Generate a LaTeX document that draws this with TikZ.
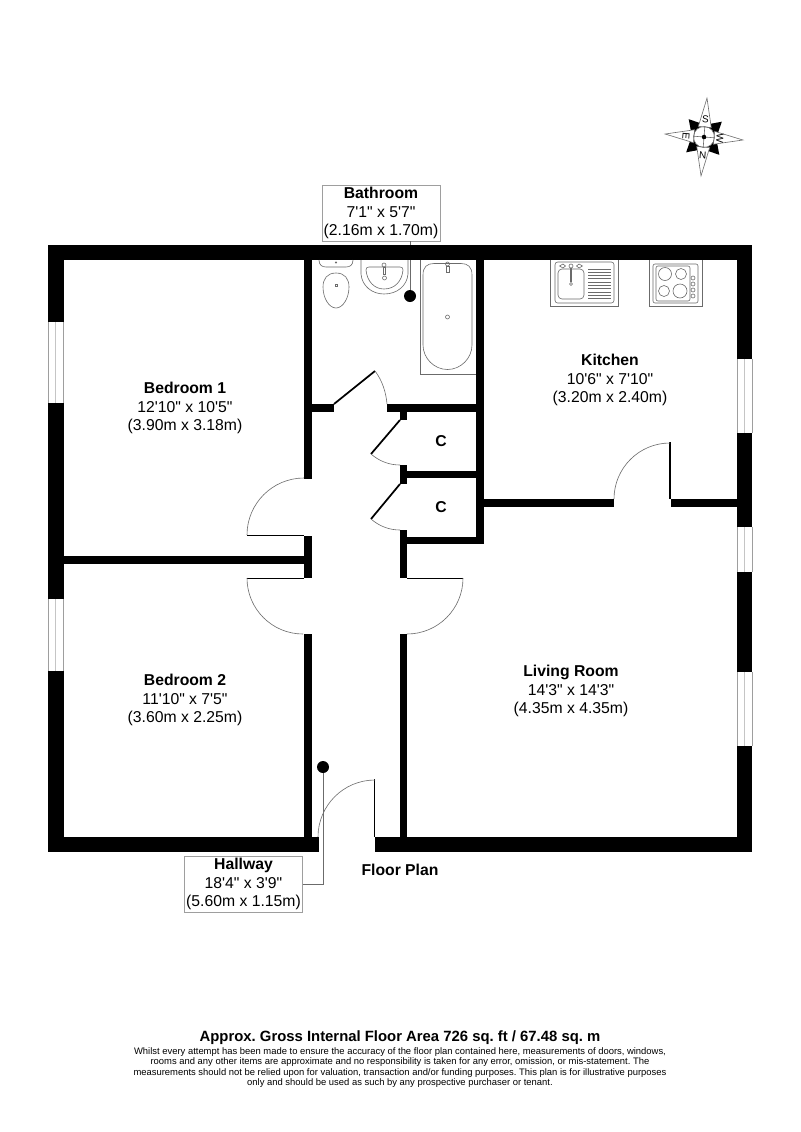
\documentclass[tikz,border=0pt]{standalone}
\usepackage{fontspec}
\newfontfamily\planfont{Liberation Sans}
\frenchspacing
\definecolor{fix}{gray}{0.42}
\definecolor{win}{gray}{0.62}
\tikzset{
  wall/.style={fill=black,draw=none},
  fixture/.style={draw=fix,line width=0.45pt,fill=none},
  swing/.style={draw=fix,line width=0.45pt},
  leaf/.style={draw=black,line width=1.3pt},
  thinleaf/.style={draw=black,line width=0.6pt},
  leader/.style={draw=fix,line width=0.5pt},
  roomlabel/.style={align=center,inner sep=0pt,font=\planfont\fontsize{11.8}{13.9}\selectfont},
  boxlabel/.style={roomlabel,draw=win,line width=0.6pt,fill=white,minimum width=0pt},
  dotnode/.style={circle,fill=black,inner sep=0pt,minimum size=9pt},
  winpane/.style={fill=white,draw=win,line width=0.6pt}
}
\begin{document}
\begin{tikzpicture}[x=0.75pt,y=-0.75pt]
\useasboundingbox (0,0) rectangle (800,1132);
\fill[white] (0,0) rectangle (800,1132);

% annotation boxes and their dots, leaders under the walls
\node[boxlabel,minimum width=88.5pt,minimum height=42pt] (bathbox) at (381,213) {\textbf{Bathroom}\\7'1" x 5'7"\\(2.16m x 1.70m)};
\node[boxlabel,minimum width=89pt,minimum height=42pt] (hallbox) at (243.5,884) {\textbf{Hallway}\\18'4" x 3'9"\\(5.60m x 1.15m)};
\node[dotnode] (bathdot) at (410,296) {};
\node[dotnode] (halldot) at (323,767) {};
\draw[leader] (bathbox.south -| bathdot) -- (bathdot);
\draw[leader] (halldot) |- (hallbox.east);

% walls
\foreach \xa/\ya/\xb/\yb in {
  48/245/752/260,   % top
  48/245/64/852,    % left
  737/245/752/852,  % right
  48/837/319/852,   % bottom left
  375/837/752/852,  % bottom right
  64/556/304/564,   % bedroom divider
  304/260/312/479,  % hall west upper
  304/536/312/578,  % hall west stub
  304/634/312/837,  % hall west lower
  304/404/334/412,  % bathroom south left
  387/404/484/412,  % bathroom south right
  476/260/484/544,  % kitchen west
  400/412/407/420,
  400/465/407/484,
  407/471/476/478,  % cupboard divider
  400/530/407/578,
  400/537/484/544,  % cupboard south
  400/634/407/837,  % hall east lower
  484/499/614/507,  % living north left
  671/499/737/507   % living north right
}{\fill[wall] (\xa,\ya) rectangle (\xb,\yb);}

% windows
\foreach \xa/\ya/\yb in {48/322/403,48/599/671,737/359/433,737/527/572,737/672/746}{
  \fill[white] (\xa,\ya) rectangle (\xa+15,\yb);
  \draw[win,line width=0.6pt] (\xa,\ya) -- (\xa,\yb) (\xa+15,\ya) -- (\xa+15,\yb);
  \draw[win!60,line width=0.6pt] (\xa+7.5,\ya) -- (\xa+7.5,\yb);
}

% doors
\draw[thinleaf] (247,535) -- (304,535) (247,578) -- (304,578) (407,578) -- (463,578);
\draw[swing] (247,535) arc[start angle=180,end angle=270,radius=57];
\draw[swing] (247,578) arc[start angle=180,end angle=90,radius=56];
\draw[swing] (463,578) arc[start angle=0,end angle=90,radius=56];
\draw[leaf] (334,404) -- (375,371);
\draw[swing] (375,371) .. controls (382,380) and (386,392) .. (387,404);
\draw[leaf] (400,420) -- (371,454);
\draw[swing] (371,454) .. controls (379,461) and (389,465) .. (400,465);
\draw[leaf] (400,484) -- (371,519);
\draw[swing] (371,519) .. controls (379,526) and (389,530) .. (400,530);
\draw[leaf] (670,442) -- (670,499);
\draw[swing] (614,499) arc[start angle=180,end angle=270,radius=56];
\draw[leaf] (374.5,779) -- (374.5,837);
\draw[swing] (318,837) arc[start angle=180,end angle=270,radius=57];

% toilet
\draw[fixture] (319,260) .. controls (319,265) and (322,267) .. (326,267) -- (346,267) .. controls (350,267) and (353,265) .. (353,260);
\draw[fixture] (336,273) .. controls (345,273) and (349,279) .. (349,287) .. controls (349,298) and (343,308) .. (336,308) .. controls (329,308) and (323,298) .. (323,287) .. controls (323,279) and (327,273) .. (336,273) -- cycle;
\draw[fixture] (335,284) rectangle (337.5,286.5);
\draw[fixture] (336,262.5) circle[radius=0.8];

% basin
\draw[fixture] (361,260) -- (361,274) .. controls (362,286) and (372,294) .. (384,294) .. controls (397,294) and (407,286) .. (408,274) -- (408,260);
\draw[fixture] (366,270) .. controls (366,268) and (367,267) .. (369,267) -- (400,267) .. controls (402,267) and (403,268) .. (403,270) .. controls (402,281) and (395,289) .. (384,289) .. controls (374,289) and (367,281) .. (366,270);
\draw[fixture] (384,265) circle[radius=2];
\draw[fixture] (383,267) rectangle (385,274);
\draw[fixture] (384.5,278) circle[radius=2];

% bath
\draw[fixture] (420,260) -- (420,374) -- (476,374);
\draw[fixture] (423,275) .. controls (423,267) and (427,263.5) .. (434,263.5) -- (461,263.5) .. controls (468,263.5) and (472,267) .. (472,275) -- (472,345) .. controls (472,358) and (461,369.5) .. (447.5,369.5) .. controls (434,369.5) and (423,358) .. (423,345) -- cycle;
\draw[fixture] (447.5,264) circle[radius=2];
\draw[fixture] (446,266) rectangle (449,272);
\draw[fixture] (447.5,317) circle[radius=2];

% kitchen sink
\draw[fixture] (550,260) -- (550,306) -- (618,306) -- (618,260);
\draw[fixture,rounded corners=2pt] (555,262) rectangle (614,303);
\draw[fixture,rounded corners=3pt] (558,269) rectangle (584,299);
\draw[fixture] (571,266) circle[radius=2];
\draw[fixture] (559.5,266) -- (563,264) -- (565.5,266) -- (563,268) -- cycle;
\draw[fixture] (582.5,266) -- (579,264) -- (576.5,266) -- (579,268) -- cycle;
\draw[fix,line width=1pt] (571,268) -- (571,282);
\draw[fixture] (571,284) circle[radius=1.5];
\foreach \i in {0,...,9}{\draw[fix,line width=0.7pt] (588,269+3.3*\i) -- (611,269+3.3*\i);}

% hob
\draw[fixture] (649,260) -- (649,306) -- (702,306) -- (702,260);
\draw[fixture,rounded corners=1.5pt] (653,264) rectangle (698,303);
\draw[fixture,rounded corners=1.5pt] (656,266) rectangle (690,301);
\draw[fixture] (665,274) circle[radius=6.5];
\draw[fixture] (681,274) circle[radius=5.5];
\draw[fixture] (664,291) circle[radius=5.5];
\draw[fixture] (680,291) circle[radius=7];
\foreach \y in {278,284,290,296}{\draw[fixture] (693,\y) circle[radius=2];}

% compass
\begin{scope}[shift={(704,137)},rotate=-4.4]
  \foreach \a in {45,135,225,315}{
    \fill[black,rotate=\a] (23.5,0) -- (8,-9) -- (8,9) -- cycle;
  }
  \fill[white] (0,0) circle[radius=10.5];
  \foreach \a/\len in {0/39,90/39,180/39,270/39}{
    \draw[fixture,fill=white,rotate=\a] (\len,0) -- (10,-6.5) -- (10,6.5) -- cycle;
  }
  \draw[fixture] (0,0) circle[radius=10.5];
  \draw[fixture] (-10.5,0) -- (10.5,0) (0,-10.5) -- (0,10.5);
  \fill[black] (0,0) circle[radius=2.3];
  \node[inner sep=0pt,font=\planfont\fontsize{7.5}{7.5}\selectfont,rotate=-4.4] (compassS) at (0,-18) {S};
  \node[inner sep=0pt,font=\planfont\fontsize{7.5}{7.5}\selectfont,rotate=-4.4] (compassN) at (0,18) {N};
  \node[inner sep=0pt,font=\planfont\fontsize{7.5}{7.5}\selectfont,rotate=-94.4] (compassE) at (-18,0) {E};
  \node[inner sep=0pt,font=\planfont\fontsize{7.5}{7.5}\selectfont,rotate=-94.4] (compassW) at (16,0) {W};
\end{scope}

% room labels
\node[roomlabel] (bed1) at (185,408) {\textbf{Bedroom 1}\\12'10" x 10'5"\\(3.90m x 3.18m)};
\node[roomlabel] (bed2) at (185,700) {\textbf{Bedroom 2}\\11'10" x 7'5"\\(3.60m x 2.25m)};
\node[roomlabel] (kitchen) at (610,380) {\textbf{Kitchen}\\10'6" x 7'10"\\(3.20m x 2.40m)};
\node[roomlabel] (living) at (571,691) {\textbf{Living Room}\\14'3" x 14'3"\\(4.35m x 4.35m)};
\node[roomlabel] (c1) at (441,441) {\textbf{C}};
\node[roomlabel] (c2) at (441,507) {\textbf{C}};
\node[roomlabel] (floorplan) at (400,870) {\textbf{Floor Plan}};

% footer
\node[inner sep=0pt,font=\planfont\fontsize{11.15}{13}\selectfont] (area) at (400,1037.5) {\textbf{Approx. Gross Internal Floor Area 726 sq. ft / 67.48 sq. m}};
\node[align=center,inner sep=0pt,font=\planfont\fontsize{7.07}{7.95}\selectfont] (disclaimer) at (400,1067.5) {Whilst every attempt has been made to ensure the accuracy of the floor plan contained here, measurements of doors, windows,\\rooms and any other items are approximate and no responsibility is taken for any error, omission, or mis-statement. The\\measurements should not be relied upon for valuation, transaction and/or funding purposes. This plan is for illustrative purposes\\only and should be used as such by any prospective purchaser or tenant.};
\end{tikzpicture}
\end{document}
